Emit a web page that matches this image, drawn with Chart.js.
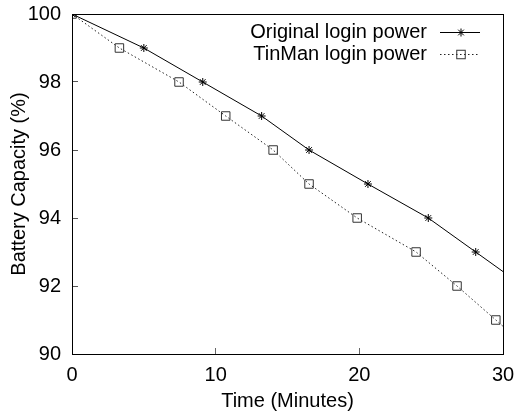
<!DOCTYPE html>
<html>
<head>
<meta charset="utf-8">
<script src="https://cdn.jsdelivr.net/npm/chart.js@4.4.0/dist/chart.umd.min.js"></script>
<style>
  html, body { margin: 0; padding: 0; background: #fff; }
  #wrap { width: 515px; height: 415px; position: relative; }
</style>
</head>
<body>
<div id="wrap"><canvas id="c" width="515" height="415"></canvas></div>
<script>
// ---- data ----
const seriesNames = ["Original login power", "TinMan login power"];
const originalX = [0, 5.0, 9.1, 13.2, 16.5, 20.6, 24.8, 28.1, 31.4];
const originalY = [100, 99, 98, 97, 96, 95, 94, 93, 92];
const tinmanX = [0, 3.3, 7.45, 10.7, 14.0, 16.5, 19.85, 23.95, 26.8, 29.5, 32.2];
const tinmanY = [100, 99, 98, 97, 96, 95, 94, 93, 92, 91, 90];
const xTicks = [0, 10, 20, 30];
const yTicks = [90, 92, 94, 96, 98, 100];
const xTitle = "Time (Minutes)";
const yTitle = "Battery Capacity (%)";

const FONT = "'Liberation Sans', Arial, Helvetica, sans-serif";
const FS = 20;

function pts(xs, ys) { return xs.map((x, i) => ({ x: x, y: ys[i] })); }

const legendPlugin = {
  id: 'rightLegend',
  afterDraw(chart) {
    const ctx = chart.ctx, a = chart.chartArea;
    ctx.save();
    // plot frame as filled 1px bars
    ctx.fillStyle = '#000';
    const L = Math.round(a.left), T = Math.round(a.top);
    const R = Math.round(a.right), B = Math.round(a.bottom);
    ctx.fillRect(L, T, R - L + 1, 1);
    ctx.fillRect(L, B, R - L + 1, 1);
    ctx.fillRect(L, T, 1, B - T + 1);
    ctx.fillRect(R, T, 1, B - T + 1);

    ctx.font = FS + 'px ' + FONT;
    ctx.fillStyle = '#000';
    ctx.textAlign = 'right';
    ctx.textBaseline = 'alphabetic';
    const textRight = 427, lx0 = 440, lx1 = 480, mx = 461;
    const rows = [37.5, 59.5];
    chart.data.datasets.forEach((ds, i) => {
      const by = rows[i];
      ctx.fillText(ds.label, textRight, by);
      const ly = Math.round(by - 6) + 0.5;
      ctx.save();
      ctx.strokeStyle = ds.borderColor;
      ctx.lineWidth = ds.borderWidth;
      ctx.setLineDash(ds.borderDash || []);
      ctx.beginPath(); ctx.moveTo(lx0, ly); ctx.lineTo(lx1, ly); ctx.stroke();
      ctx.restore();
      ctx.save();
      ctx.setLineDash([]);
      ctx.strokeStyle = ds.pointBorderColor;
      ctx.lineWidth = 1;
      if (ds.pointStyle === 'star') {
        const r = ds.pointRadius;
        const d = r * Math.SQRT1_2;
        ctx.beginPath();
        ctx.moveTo(mx - r, ly); ctx.lineTo(mx + r, ly);
        ctx.moveTo(mx, ly - r); ctx.lineTo(mx, ly + r);
        ctx.moveTo(mx - d, ly - d); ctx.lineTo(mx + d, ly + d);
        ctx.moveTo(mx - d, ly + d); ctx.lineTo(mx + d, ly - d);
        ctx.stroke();
      } else {
        const s = ds.pointRadius * Math.SQRT1_2;
        ctx.strokeRect(mx - s, ly - s, 2 * s, 2 * s);
      }
      ctx.restore();
    });
    ctx.restore();
  }
};

new Chart(document.getElementById('c'), {
  type: 'scatter',
  data: {
    datasets: [
      {
        label: seriesNames[0],
        data: pts(originalX, originalY),
        showLine: true,
        borderColor: '#000',
        borderWidth: 1,
        pointStyle: 'star',
        pointRadius: 4,
        pointBorderColor: '#000',
        pointBorderWidth: 1,
        pointBackgroundColor: 'transparent',
        tension: 0
      },
      {
        label: seriesNames[1],
        data: pts(tinmanX, tinmanY),
        showLine: true,
        borderColor: '#222',
        borderWidth: 1,
        borderDash: [1.5, 2.5],
        pointStyle: 'rect',
        pointRadius: 6,
        pointBorderColor: '#333',
        pointBorderWidth: 1,
        pointBackgroundColor: 'transparent',
        tension: 0
      }
    ]
  },
  options: {
    responsive: false,
    animation: false,
    devicePixelRatio: 1,
    layout: { padding: { top: 14, right: 12, left: 0, bottom: 0 } },
    plugins: { legend: { display: false }, tooltip: { enabled: false } },
    scales: {
      x: {
        type: 'linear', position: 'bottom', min: 0, max: 30,
        afterBuildTicks(s) { s.ticks = xTicks.map(v => ({ value: v })); },
        afterFit(s) { s.height = 61; s.paddingLeft = 0; s.paddingRight = 0; },
        grid: { display: true, drawOnChartArea: false, drawTicks: true, tickLength: -6,
                color: '#666', lineWidth: 1 },
        border: { display: true, color: '#000', width: 1 },
        ticks: { color: '#000', padding: 15, maxRotation: 0, font: { family: FONT, size: FS } },
        title: { display: true, text: xTitle, color: '#000', padding: { top: 0, bottom: 2 },
                 font: { family: FONT, size: FS } }
      },
      y: {
        type: 'linear', position: 'left', min: 90, max: 100,
        afterBuildTicks(s) { s.ticks = yTicks.map(v => ({ value: v })); },
        afterFit(s) { s.width = 72; s.paddingTop = 0; s.paddingBottom = 0; },
        grid: { display: true, drawOnChartArea: false, drawTicks: true, tickLength: -6,
                color: '#555', lineWidth: 1 },
        border: { display: true, color: '#000', width: 1 },
        ticks: { color: '#000', padding: 17, font: { family: FONT, size: FS } },
        title: { display: true, text: yTitle, color: '#000', padding: { top: 7, bottom: 0 },
                 font: { family: FONT, size: FS } }
      }
    }
  },
  plugins: [legendPlugin]
});
</script>
</body>
</html>
